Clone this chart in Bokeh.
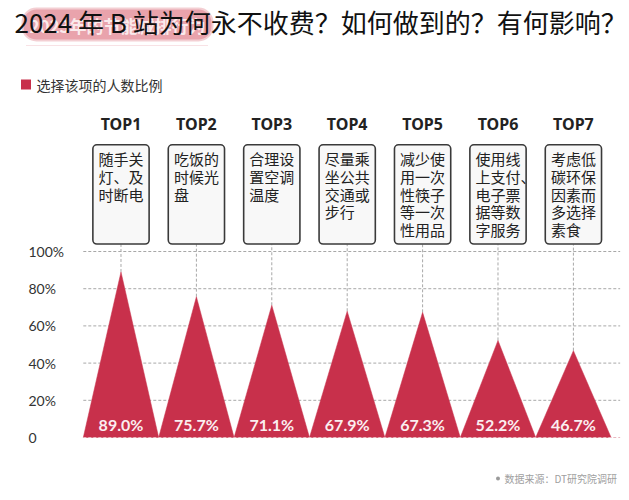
from bokeh.plotting import figure
from bokeh.models import Range1d, ColumnDataSource
from bokeh.core.properties import value
from bokeh.embed import file_html
from bokeh.resources import INLINE

# ---- data ----
ranks = ["TOP1", "TOP2", "TOP3", "TOP4", "TOP5", "TOP6", "TOP7"]
actions = [
    "随手关\n灯、及\n时断电",
    "吃饭的\n时候光\n盘",
    "合理设\n置空调\n温度",
    "尽量乘\n坐公共\n交通或\n步行",
    "减少使\n用一次\n性筷子\n等一次\n性用品",
    "使用线\n上支付、\n电子票\n据等数\n字服务",
    "考虑低\n碳环保\n因素而\n多选择\n素食",
]
shares = [89.0, 75.7, 71.1, 67.9, 67.3, 52.2, 46.7]
y_ticks = [0, 20, 40, 60, 80, 100]
y_tick_labels = ["0", "20%", "40%", "60%", "80%", "100%"]
title_text = "2024 年 B 站为何永不收费？如何做到的？有何影响？"
legend_text = "选择该项的人数比例"
source_text = "数据来源：DT研究院调研"

RED = "#c8304b"
CJK = "Noto Sans CJK SC"

p = figure(width=629, height=500,
           x_range=Range1d(-1.598, 6.744), y_range=Range1d(-33.87, 234.95),
           output_backend="svg", toolbar_location=None,
           x_axis_location=None, y_axis_location=None, min_border=0)
p.grid.visible = False
p.outline_line_color = None
p.background_fill_color = "white"
p.border_fill_color = "white"
p.extra_x_ranges = {"px": Range1d(0, 629)}
p.extra_y_ranges = {"px": Range1d(500, 0)}

n = len(ranks)
idx = list(range(n))

# banner behind title
p.quad(left=[22], right=[212], top=[8], bottom=[40], x_range_name="px", y_range_name="px",
       fill_color="#e9a3ac", line_color="#f3cfd3", line_width=2, border_radius=14)
p.text(x=[117], y=[25], text=["2023年的节能减排行为"], x_range_name="px", y_range_name="px",
       text_font=value(CJK), text_font_style="bold", text_font_size="17px",
       text_color="white", text_alpha=0.8, text_align="center", text_baseline="middle")
p.segment(x0=[26], x1=[208], y0=[45], y1=[45], x_range_name="px", y_range_name="px",
          line_color="#f0c5cb", line_dash="1 1", line_width=1)

# title
p.text(x=[14], y=[21], text=[title_text], x_range_name="px", y_range_name="px",
       text_font=value(CJK), text_font_size="26px", text_color="#111111",
       text_align="left", text_baseline="middle")

# legend
p.quad(left=[20.5], right=[30.5], top=[79], bottom=[89], x_range_name="px", y_range_name="px",
       fill_color=RED, line_color=None)
p.text(x=[36], y=[84], text=[legend_text], x_range_name="px", y_range_name="px",
       text_font=value(CJK), text_font_size="14px", text_color="#333333",
       text_align="left", text_baseline="middle")

# horizontal dashed grid
for t in y_ticks[1:]:
    p.segment(x0=[-0.5], x1=[6.62], y0=[t], y1=[t], line_color="#a8a8a8",
              line_dash="3 2", line_width=1)

# y tick labels
p.text(x=[28] * len(y_ticks), y=y_ticks, text=y_tick_labels, x_range_name="px",
       text_font=value("Lato"), text_font_size="14px", text_color="#333333",
       text_align="left", text_baseline="middle")

# vertical dashed lines from boxes down to apex
box_bottom = 103.8
p.segment(x0=idx, x1=idx, y0=shares, y1=[box_bottom] * n, line_color="#a8a8a8",
          line_dash="3 2", line_width=1)

# triangles
xs = [[i - 0.5, i, i + 0.5] for i in idx]
ys = [[0, v, 0] for v in shares]
p.patches(xs, ys, fill_color=RED, line_color=RED, line_width=0.5)

# baseline
p.segment(x0=[-0.5], x1=[6.62], y0=[0], y1=[0], line_color="#e8b8c0",
          line_dash="3 2", line_width=1)

# value labels
src = ColumnDataSource(dict(x=idx, y=[0] * n, t=[f"{v:.1f}%" for v in shares]))
p.text(x="x", y="y", text="t", source=src, y_offset=-13,
       text_font=value("Lato"), text_font_style="bold", text_font_size="16px",
       text_color="#fbeef0", text_align="center", text_baseline="middle")

# boxes (px y)
p.quad(left=[i - 0.373 for i in idx], right=[i + 0.373 for i in idx],
       top=[144.3] * n, bottom=[243.5] * n, y_range_name="px",
       fill_color="#f8f8f8", line_color="#3a3a3a", line_width=1.6, border_radius=4)
p.text(x=idx, y=[123] * n, text=ranks, y_range_name="px",
       text_font=value("Noto Sans"), text_font_style="bold", text_font_size="16px",
       text_color="#222222", text_align="center", text_baseline="middle")

# box text, one glyph per line
lx, ly, lt = [], [], []
for i, a in zip(idx, actions):
    for k, line in enumerate(a.split("\n")):
        lx.append(i)
        ly.append(158.3 + 17.7 * k)
        lt.append(line)
p.text(x=lx, y=ly, text=lt, y_range_name="px", x_offset=-22.5,
       text_font=value(CJK), text_font_size="15px", text_color="#222222",
       text_align="left", text_baseline="middle")

# source
p.scatter(x=[497.5], y=[478], x_range_name="px", y_range_name="px", size=4,
          fill_color="#9a9a9a", line_color=None)
p.text(x=[504], y=[478], text=[source_text], x_range_name="px", y_range_name="px",
       text_font=value(CJK), text_font_size="10px", text_color="#a0a0a0",
       text_align="left", text_baseline="middle")

open("out.html", "w").write(file_html(p, INLINE))
